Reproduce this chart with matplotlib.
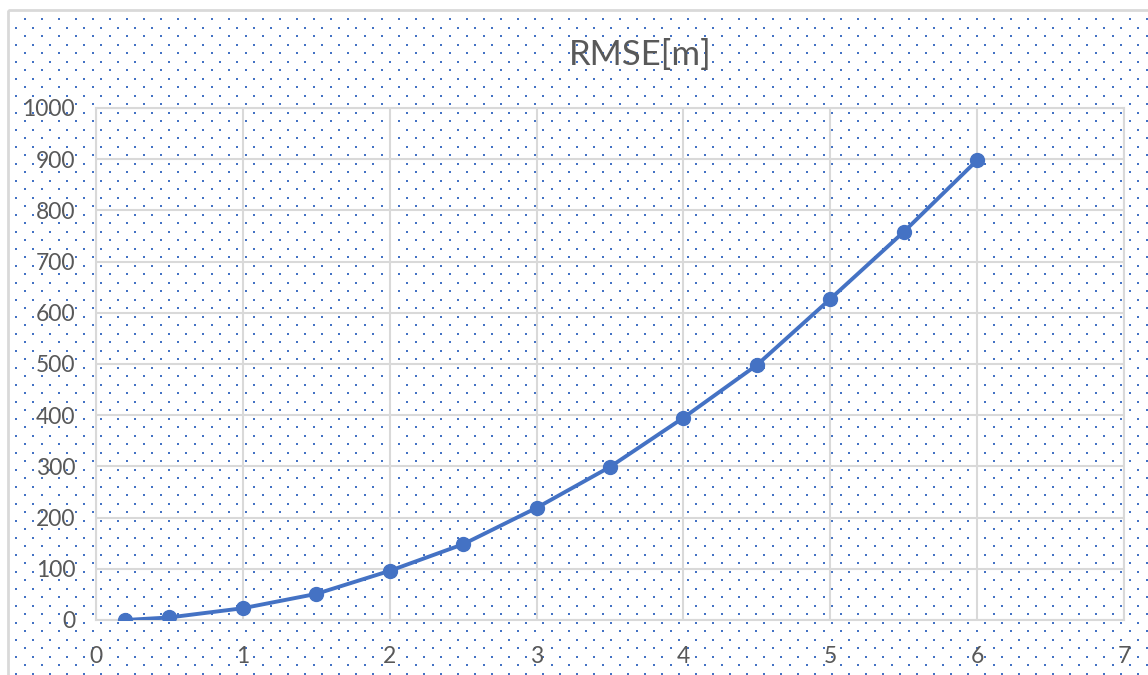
import numpy as np
import matplotlib.pyplot as plt
from matplotlib.patches import Rectangle

# --- data ---
x_vals = [0.2, 0.5, 1.0, 1.5, 2.0, 2.5, 3.0, 3.5, 4.0, 4.5, 5.0, 5.5, 6.0]
rmse = [0, 5, 23, 51, 96, 148, 219, 299, 395, 498, 627, 758, 898]
x_ticks = [0, 1, 2, 3, 4, 5, 6, 7]
y_ticks = [0, 100, 200, 300, 400, 500, 600, 700, 800, 900, 1000]

W, H = 1148, 675
blue = '#4472C4'
text_col = '#595959'
grid_col = '#D9D9D9'

plt.rcParams['font.family'] = ['Lato', 'DejaVu Sans']

fig = plt.figure(figsize=(W / 100, H / 100), dpi=100)

# background with the dotted pattern fill (pixel coordinates)
bg = fig.add_axes([0, 0, 1, 1])
bg.set_xlim(0, W)
bg.set_ylim(H, 0)
bg.axis('off')
step = 17.0
rows = np.arange(19, H, step / 2)
for r, yy in enumerate(rows):
    start = 24.7 if r % 2 == 0 else 16.2
    xs = np.arange(start, W, step)
    bg.plot(xs, np.full_like(xs, yy), 's', color=blue, markersize=2.1,
            markeredgewidth=0)
bg.add_patch(Rectangle((8, 10), W, H, fill=False, edgecolor=grid_col, linewidth=2))

# plot area
ax = fig.add_axes([96 / W, 1 - 620 / H, (1124 - 96) / W, (620 - 108) / H])
ax.set_facecolor('none')
ax.plot(x_vals, rmse, '-o', color=blue, linewidth=2.8, markersize=10, zorder=3)

ax.set_xlim(0, 7)
ax.set_ylim(0, 1000)
ax.set_xticks(x_ticks)
ax.set_yticks(y_ticks)
ax.grid(True, color=grid_col, linewidth=1.5)
ax.set_axisbelow(True)
for s in ax.spines.values():
    s.set_color(grid_col)
    s.set_linewidth(1.5)
ax.tick_params(length=0, labelsize=16.5, labelcolor=text_col)
ax.tick_params(axis='x', pad=19)
ax.tick_params(axis='y', pad=15)

fig.text(640 / W, 1 - 55 / H, 'RMSE[m]', fontsize=25, color=text_col,
         ha='center', va='center')

fig.savefig('out.png', dpi=100)
